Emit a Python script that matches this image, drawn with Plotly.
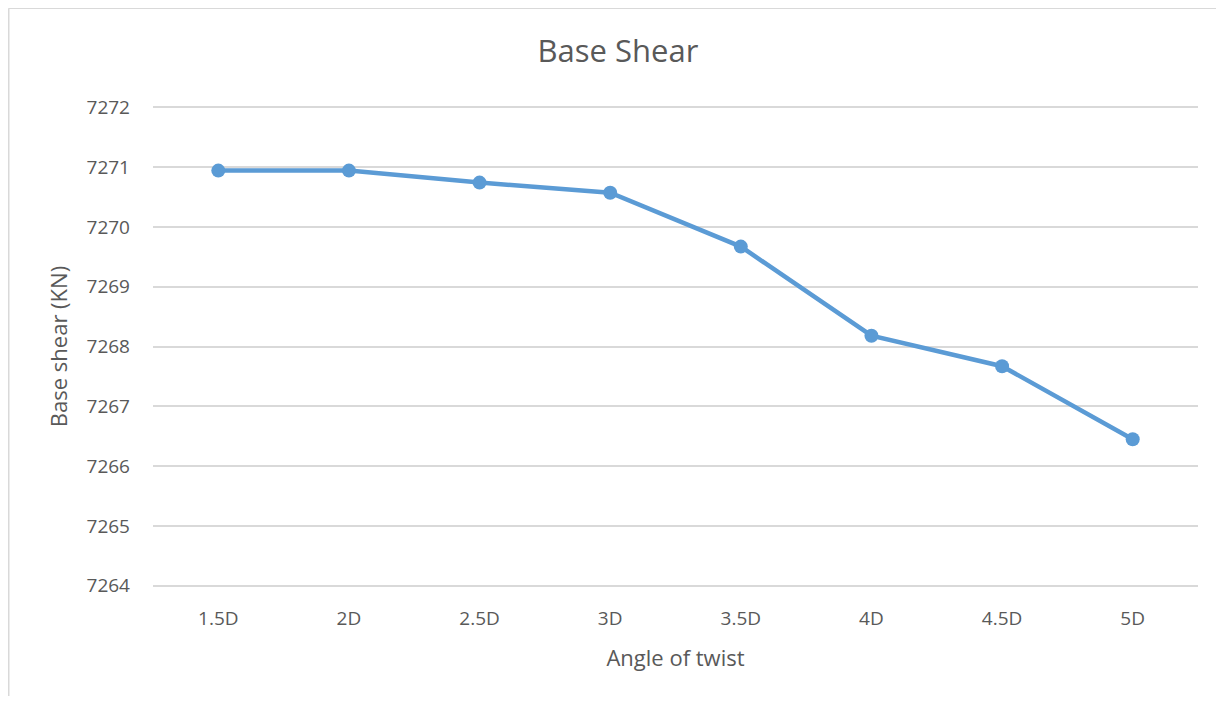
import plotly.graph_objects as go

categories = ["1.5D", "2D", "2.5D", "3D", "3.5D", "4D", "4.5D", "5D"]
base_shear = [7270.94, 7270.94, 7270.74, 7270.57, 7269.67, 7268.18, 7267.67, 7266.45]
y_ticks = [7264, 7265, 7266, 7267, 7268, 7269, 7270, 7271, 7272]

# the page has an 8px body margin, so the figure is a bit smaller than the window
W, H = 1208, 688
L, R, T, B = 145, 18, 98, 109
PW, PH = W - L - R, H - T - B

fig = go.Figure()
fig.add_trace(go.Scatter(
    x=categories, y=base_shear, mode="lines+markers",
    line=dict(color="#5B9BD5", width=4.5),
    marker=dict(color="#5B9BD5", size=14),
    showlegend=False, cliponaxis=False,
))

font_family = "Open Sans, Liberation Sans, sans-serif"
grey = "#595959"
fig.update_layout(
    width=W, height=H,
    margin=dict(l=L, r=R, t=T, b=B),
    paper_bgcolor="white", plot_bgcolor="white",
    font=dict(family=font_family, color=grey, size=20),
    title=dict(text="Base Shear", x=(618 - 8) / W, xanchor="center", xref="container",
               y=1 - 43 / H, yanchor="middle", yref="container",
               font=dict(size=31, color=grey, family=font_family)),
    xaxis=dict(type="category", range=[-0.5, 7.5], showgrid=False, showline=False,
               zeroline=False, ticks="", ticklabelstandoff=18,
               tickfont=dict(size=19, color=grey),
               title=dict(text="Angle of twist", font=dict(size=22, color=grey), standoff=20)),
    yaxis=dict(range=[7263.98, 7272.02], tickvals=y_ticks, ticktext=[str(v) for v in y_ticks],
               showgrid=True, gridcolor="#D9D9D9", gridwidth=1.5, zeroline=False,
               showline=False, ticks="", ticklabelstandoff=22,
               tickfont=dict(size=19, color=grey),
               title=dict(text="Base shear (KN)", font=dict(size=22, color=grey), standoff=12)),
    shapes=[
        dict(type="line", xref="paper", yref="paper",
             x0=(0.75 - L) / PW, x1=(W - L) / PW,
             y0=1 + (T - 0.25) / PH, y1=1 + (T - 0.25) / PH,
             line=dict(color="#D9D9D9", width=1.5)),
        dict(type="line", xref="paper", yref="paper",
             x0=(0.75 - L) / PW, x1=(0.75 - L) / PW,
             y0=1 + (T - 0.25) / PH, y1=-B / PH,
             line=dict(color="#D9D9D9", width=1.5)),
    ],
)

fig.write_html("out.html")
